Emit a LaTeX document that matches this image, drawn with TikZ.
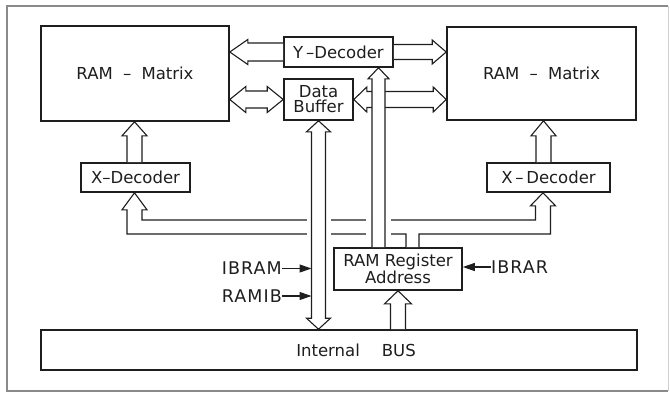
\documentclass[tikz,border=0pt]{standalone}
\usepackage{fontspec}
\setmainfont{DejaVu Sans}
\usetikzlibrary{calc,arrows.meta}
\definecolor{ink}{HTML}{1E1E1E}
\definecolor{framec}{HTML}{8A8A8A}
\newcommand{\blockarrow}[5]{% tail, tip, shaft half, head half, head length
  \path ($(#2)!#5pt!(#1)$) coordinate (hb);
  \draw[barr] ($(#1)!#3pt!90:(#2)$) -- ($(hb)!#3pt!90:(#2)$) -- ($(hb)!#4pt!90:(#2)$) -- (#2)
     -- ($(hb)!#4pt!-90:(#2)$) -- ($(hb)!#3pt!-90:(#2)$) -- ($(#1)!#3pt!-90:(#2)$);
}
\newcommand{\dblarrow}[5]{% tip1, tip2, shaft half, head half, head length
  \path ($(#1)!#5pt!(#2)$) coordinate (ha) ($(#2)!#5pt!(#1)$) coordinate (hb);
  \draw[barr] (#1) -- ($(ha)!#4pt!90:(#2)$) -- ($(ha)!#3pt!90:(#2)$) -- ($(hb)!#3pt!-90:(#1)$)
     -- ($(hb)!#4pt!-90:(#1)$) -- (#2) -- ($(hb)!#4pt!90:(#1)$) -- ($(hb)!#3pt!90:(#1)$)
     -- ($(ha)!#3pt!-90:(#2)$) -- ($(ha)!#4pt!-90:(#2)$) -- cycle;
}
\begin{document}
\begin{tikzpicture}[x=1pt,y=-1pt,
  box/.style={draw=ink, line width=1.6pt, fill=white, inner sep=0pt, align=center,
    text=ink, font=\fontsize{16.5}{15}\selectfont},
  barr/.style={draw=ink, line width=1.1pt, fill=white, line join=miter},
  feed/.style={draw=ink, line width=1.1pt, fill=white, line join=miter},
  sig/.style={draw=ink, line width=1.1pt, -{Triangle[length=12pt,width=8pt]}},
  lbl/.style={font=\fontsize{17.5}{17}\selectfont\addfontfeature{LetterSpace=6}, inner sep=0pt, text=ink}]
\useasboundingbox (0,0) rectangle (670,392);
% frame
\draw[framec, line width=1.2pt] (668,6) -- (7,6) -- (7,391) -- (668,391);
\draw[framec!40, line width=0.8pt] (668,6) -- (668,391);

% boxes
\node[box, minimum width=188pt, minimum height=95pt] (raml) at (135,73.5) {RAM\hspace{5pt} – \hspace{5pt}Matrix};
\node[box, minimum width=189pt, minimum height=93pt] (ramr) at (541.5,73.5) {RAM\hspace{5pt} – \hspace{5pt}Matrix};
\node[box, minimum width=109pt, minimum height=29pt] (xdl) at (135.5,177.5) {X–Decoder};
\node[box, minimum width=123pt, minimum height=29pt] (xdr) at (548.5,177.5) {X\,–\,Decoder};
\node[box, minimum width=109pt, minimum height=30pt] (yd) at (338.5,52) {Y\,–Decoder};
\node[box, minimum width=69pt, minimum height=41pt] (db) at (318.5,99.5) {Data\\Buffer};
\node[box, minimum width=128pt, minimum height=42pt, font=\fontsize{16.5}{14}\selectfont] (rra) at (398,269) {RAM Register\\Address};
\node[box, minimum width=596pt, minimum height=40pt] (bus) at (339,350) {\hspace*{34pt}Internal\hspace{22pt}BUS};

% horizontal block arrows
\blockarrow{yd.west}{yd.west -| raml.east}{9}{12.5}{18}
\blockarrow{yd.east}{yd.east -| ramr.west}{7.5}{12}{14}
\dblarrow{db.west -| raml.east}{db.west}{8.5}{13}{16}
\dblarrow{db.east}{db.east -| ramr.west}{8}{12.5}{13}

% X-decoder -> RAM
\coordinate (xl) at ($(xdl.north)+(-1,0)$);
\coordinate (xr) at ($(xdr.north)+(-5,0)$);
\blockarrow{xl}{xl |- raml.south}{7.5}{12.5}{14}
\blockarrow{xr}{xr |- ramr.south}{7.5}{12.5}{15}

% address feed to the X-decoders
\coordinate (fl) at ($(xdl.south)+(-1,0)$);
\coordinate (fr) at ($(xdr.south)+(-5.5,0)$);
\coordinate (fo) at ($(rra.north)+(14.5,0)$);
\coordinate (fy) at (0,227);
\draw[feed] ($(fo)+(-6.5,0)$) -- ($(fo |- fy)+(-6.5,7)$) -- ($(fl |- fy)+(-7.5,7)$)
  -- ($(fl)+(-7.5,17)$) -- ($(fl)+(-12.5,17)$) -- (fl) -- ($(fl)+(12.5,17)$) -- ($(fl)+(7.5,17)$)
  -- ($(fl |- fy)+(7.5,-7)$) -- ($(fr |- fy)+(-7.5,-7)$)
  -- ($(fr)+(-7.5,13)$) -- ($(fr)+(-12.5,13)$) -- (fr) -- ($(fr)+(12.5,13)$) -- ($(fr)+(7.5,13)$)
  -- ($(fr |- fy)+(7.5,7)$) -- ($(fo |- fy)+(6.5,7)$) -- ($(fo)+(6.5,0)$);

% gaps where the vertical buses cross
\coordinate (dbx) at (db.south);
\coordinate (yt) at ($(rra.north)+(-19.5,0)$);
\fill[white] ($(dbx |- fy)+(-12,-11)$) rectangle ($(dbx |- fy)+(12,11)$);
\fill[white] ($(yt |- fy)+(-13,-11)$) rectangle ($(yt |- fy)+(12,11)$);

% vertical block arrows
\dblarrow{db.south}{db.south |- bus.north}{7}{12}{11}
\blockarrow{yt}{yt |- yd.south}{6.5}{10.5}{11}
\blockarrow{rra.south |- bus.north}{rra.south}{7.5}{13.5}{13}

% control signals
\node[lbl, anchor=east] (ibram) at (282,268.5) {IBRAM};
\node[lbl, anchor=east] (ramib) at (282,296) {RAMIB};
\node[lbl, anchor=west] (ibrar) at (491,267) {IBRAR};
\coordinate (dbl) at ($(db.south)+(-7,0)$);
\draw[sig] (ibram.east) -- (ibram.east -| dbl);
\draw[sig] (ramib.east) -- (ramib.east -| dbl);
\draw[sig] (ibrar.west) -- (ibrar.west -| rra.east);
\end{tikzpicture}
\end{document}
